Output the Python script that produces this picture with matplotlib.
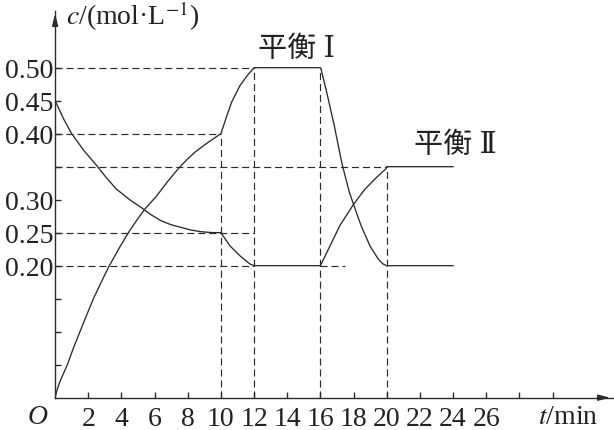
import matplotlib
matplotlib.use("Agg")
import matplotlib.pyplot as plt

plt.rcParams['font.family'] = ['Liberation Serif', 'DejaVu Serif', 'Noto Sans CJK SC']
plt.rcParams['mathtext.fontset'] = 'stix'

# Curve A (rises to 0.50 equilibrium I, falls to 0.20 equilibrium II)
t_a = [0, 0.12, 0.3, 0.74, 1.1, 1.5, 1.9, 2.31, 2.8, 3.27, 3.85, 4.42, 4.9, 5.42, 6.1,
       6.8, 7.5, 8.0, 8.44, 8.85, 9.24, 9.65, 10,
       10.29, 10.65, 11.15, 11.65, 12, 16,
       16.04, 16.38, 16.84, 17.24, 17.38, 17.75, 18.0, 18.45, 18.99, 19.49, 19.75, 20, 24]
c_a = [0, 0.012, 0.025, 0.05, 0.075, 0.10, 0.125, 0.15, 0.176, 0.20, 0.226, 0.25, 0.268, 0.286, 0.305,
       0.328, 0.349, 0.362, 0.372, 0.380, 0.387, 0.394, 0.40,
       0.422, 0.448, 0.473, 0.490, 0.50, 0.50,
       0.498, 0.463, 0.412, 0.362, 0.347, 0.311, 0.293, 0.261, 0.230, 0.210, 0.203, 0.20, 0.20]

# Curve B (falls from 0.45 to 0.20, then rises to 0.35)
t_b = [0, 0.5, 1.0, 1.75, 2.5, 3.1, 3.7, 4.5, 5.2, 5.8, 6.4, 7.0, 7.6, 8.2, 8.8, 9.4, 10,
       10.55, 11.15, 11.75, 12, 16,
       16.58, 17.18, 18.0, 18.69, 19.4, 19.96, 20, 24]
c_b = [0.45, 0.423, 0.40, 0.374, 0.352, 0.333, 0.316, 0.30, 0.288, 0.277, 0.268, 0.262, 0.258, 0.254, 0.2515, 0.2503, 0.25,
       0.230, 0.215, 0.2026, 0.20, 0.20,
       0.230, 0.261, 0.293, 0.316, 0.334, 0.347, 0.35, 0.35]

# Dashed guide lines
h_guide_y = [0.50, 0.40, 0.35, 0.25, 0.20, 0.20]
h_guide_x0 = [0, 0, 0, 0, 0, 16]
h_guide_x1 = [12, 10, 20, 12, 12, 17.5]
v_guide_x = [10, 12, 16, 20]
v_guide_y = [0.40, 0.50, 0.50, 0.35]

x_ticks = [2, 4, 6, 8, 10, 12, 14, 16, 18, 20, 22, 24, 26, 28, 30]
x_ticklabels = ['2', '4', '6', '8', '10', '12', '14', '16', '18', '20', '22', '24', '26', '', '']
y_ticks = [0.05, 0.10, 0.15, 0.20, 0.25, 0.30, 0.35, 0.40, 0.45, 0.50]
y_ticklabels = ['', '', '', '0.20', '0.25', '0.30', '', '0.40', '0.45', '0.50']

label_eq1 = '平衡 Ⅰ'
label_eq2 = '平衡 Ⅱ'

W, H = 614, 431
fig = plt.figure(figsize=(W / 100, H / 100), dpi=100)
x0px, x1px = 55.1, 613.0
ybot, ytop = 398.7, 12.0
ax = fig.add_axes([x0px / W, (H - ybot) / H, (x1px - x0px) / W, (ybot - ytop) / H])
xmax = (x1px - x0px) / 16.58
ymax = (ybot - ytop) / 660.0
ax.set_xlim(0, xmax)
ax.set_ylim(0, ymax)

col = '#2b2b2b'
tcol = '#222222'
for s in ['top', 'right']:
    ax.spines[s].set_visible(False)
for s in ['left', 'bottom']:
    ax.spines[s].set_color(col)
    ax.spines[s].set_linewidth(1.0)

# arrows
ax.annotate('', xy=(1.0, 0), xytext=(0.97, 0), xycoords='axes fraction',
            arrowprops=dict(arrowstyle='-|>,head_length=0.7,head_width=0.18', color=col, lw=1.0),
            annotation_clip=False)
ax.annotate('', xy=(0, 1.0), xytext=(0, 0.96), xycoords='axes fraction',
            arrowprops=dict(arrowstyle='-|>,head_length=0.7,head_width=0.18', color=col, lw=1.0),
            annotation_clip=False)

ax.plot(t_a, c_a, color=col, lw=0.95, solid_joinstyle='round')
ax.plot(t_b, c_b, color=col, lw=0.95, solid_joinstyle='round')

dash = (0, (6, 3.3))
for y, xa, xb in zip(h_guide_y, h_guide_x0, h_guide_x1):
    ax.plot([xa, xb], [y, y], color=col, lw=0.85, linestyle=dash)
for x, y in zip(v_guide_x, v_guide_y):
    ax.plot([x, x], [0, y], color=col, lw=0.85, linestyle=dash)

fs = 20
ax.set_xticks(x_ticks)
ax.set_xticklabels(x_ticklabels, fontsize=fs)
ax.set_yticks(y_ticks)
ax.set_yticklabels(y_ticklabels, fontsize=fs)
ax.tick_params(axis='x', direction='in', length=4, width=1.0, color=col, pad=6, labelcolor=tcol)
ax.tick_params(axis='y', direction='in', length=4, width=1.0, color=col, pad=1, labelcolor=tcol)

fig.text(38 / W, 1 - 418 / H, 'O', fontsize=fs, fontstyle='italic', ha='center', va='center', color=tcol)
fig.text(568 / W, 1 - 418 / H, r'$t$/min', fontsize=fs, ha='center', va='center', color=tcol)
fig.text(66 / W, 1 - 16 / H, r'$c$/(mol·L$^{-1}$)', fontsize=fs, ha='left', va='center', color=tcol)
fig.text(296 / W, 1 - 50 / H, label_eq1, fontsize=21, ha='center', va='center', color=tcol)
fig.text(455 / W, 1 - 146 / H, label_eq2, fontsize=21, ha='center', va='center', color=tcol)

fig.savefig('out.png', dpi=100)
